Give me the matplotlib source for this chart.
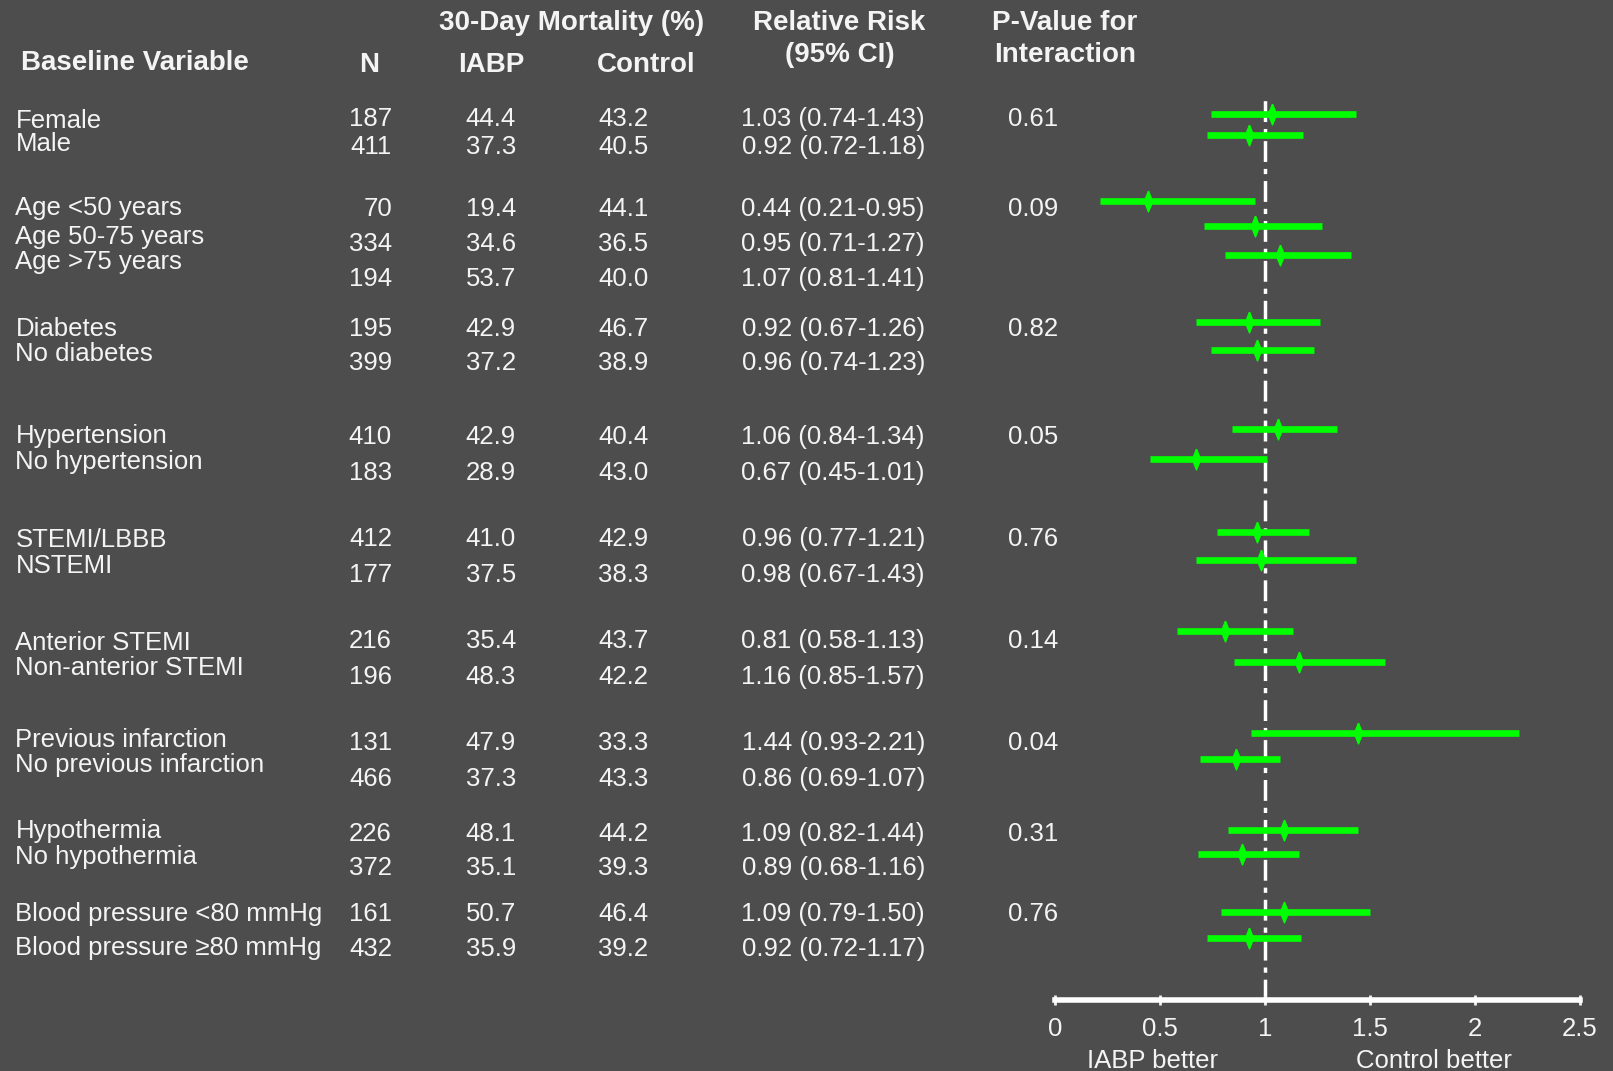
import matplotlib
matplotlib.use("Agg")
import matplotlib.pyplot as plt
import numpy as np

# subgroup table (IABP-SHOCK II style forest plot)
labels = ["Female", "Male",
          "Age <50 years", "Age 50-75 years", "Age >75 years",
          "Diabetes", "No diabetes",
          "Hypertension", "No hypertension",
          "STEMI/LBBB", "NSTEMI",
          "Anterior STEMI", "Non-anterior STEMI",
          "Previous infarction", "No previous infarction",
          "Hypothermia", "No hypothermia",
          "Blood pressure <80 mmHg", "Blood pressure \u226580 mmHg"]
n_pat = [187, 411, 70, 334, 194, 195, 399, 410, 183, 412, 177,
         216, 196, 131, 466, 226, 372, 161, 432]
mort_iabp = [44.4, 37.3, 19.4, 34.6, 53.7, 42.9, 37.2, 42.9, 28.9, 41.0, 37.5,
             35.4, 48.3, 47.9, 37.3, 48.1, 35.1, 50.7, 35.9]
mort_ctrl = [43.2, 40.5, 44.1, 36.5, 40.0, 46.7, 38.9, 40.4, 43.0, 42.9, 38.3,
             43.7, 42.2, 33.3, 43.3, 44.2, 39.3, 46.4, 39.2]
rr = [1.03, 0.92, 0.44, 0.95, 1.07, 0.92, 0.96, 1.06, 0.67, 0.96, 0.98,
      0.81, 1.16, 1.44, 0.86, 1.09, 0.89, 1.09, 0.92]
ci_lo = [0.74, 0.72, 0.21, 0.71, 0.81, 0.67, 0.74, 0.84, 0.45, 0.77, 0.67,
         0.58, 0.85, 0.93, 0.69, 0.82, 0.68, 0.79, 0.72]
ci_hi = [1.43, 1.18, 0.95, 1.27, 1.41, 1.26, 1.23, 1.34, 1.01, 1.21, 1.43,
         1.13, 1.57, 2.21, 1.07, 1.44, 1.16, 1.50, 1.17]
p_inter = [0.61, 0.09, 0.82, 0.05, 0.76, 0.14, 0.04, 0.31, 0.76]
p_row = [0, 2, 5, 7, 9, 11, 13, 15, 17]   # first row of each group

# layout (pixel rows in a 1568x1041 frame)
label_y = [118, 140, 202, 230, 255, 320, 344, 424, 449, 525, 550,
           625, 649, 719, 744, 808, 833, 888, 921]
num_y = [116, 143, 203, 237, 271, 320, 353, 425, 460, 524, 559,
         623, 658, 722, 757, 811, 844, 888, 922]
bar_y = [111, 131, 195, 220, 248, 313, 340, 417, 446, 517, 544,
         613, 643, 712, 738, 807, 830, 886, 912]

BG = "#4d4d4d"
FG = "#f4f4f4"
GREEN = "#00ff00"
W, H = 1568, 1041

plt.rcParams["font.family"] = ["Liberation Sans", "DejaVu Sans"]

fig = plt.figure(figsize=(16.13, 10.71), dpi=100, facecolor=BG)

# text layer
tx = fig.add_axes([0, 0, 1, 1])
tx.set_xlim(0, W)
tx.set_ylim(H, 0)
tx.axis("off")

fs = 18.5
def put(x, y, s, ha="left", bold=False):
    tx.text(x, y, s, ha=ha, va="center", color=FG,
            fontsize=20 if bold else fs,
            fontweight="bold" if bold else "normal")

put(556, 22, "30-Day Mortality (%)", "center", True)
put(20, 61, "Baseline Variable", "left", True)
put(359, 63, "N", "center", True)
put(478, 63, "IABP", "center", True)
put(628, 63, "Control", "center", True)
put(816, 22, "Relative Risk", "center", True)
put(816, 53, "(95% CI)", "center", True)
put(1035, 22, "P-Value for", "center", True)
put(1035, 53, "Interaction", "center", True)

for i, lab in enumerate(labels):
    put(15, label_y[i], lab)
    put(381, num_y[i], str(n_pat[i]), "right")
    put(477, num_y[i], f"{mort_iabp[i]:.1f}", "center")
    put(606, num_y[i], f"{mort_ctrl[i]:.1f}", "center")
    put(810, num_y[i], f"{rr[i]:.2f} ({ci_lo[i]:.2f}-{ci_hi[i]:.2f})", "center")

for p, r in zip(p_inter, p_row):
    put(980, num_y[r], f"{p:.2f}")

put(1120, 1031, "IABP better", "center")
put(1394, 1031, "Control better", "center")

# forest panel
x0, x1, ytop, ybot = 1026, 1536, 95, 972
ax = fig.add_axes([x0 / W, 1 - ybot / H, (x1 - x0) / W, (ybot - ytop) / H])
ax.set_facecolor("none")
ax.set_xlim(0, 2.5)
ax.set_ylim(ybot, ytop)
for s in ["top", "left", "right"]:
    ax.spines[s].set_visible(False)
ax.spines["bottom"].set_color("white")
ax.spines["bottom"].set_linewidth(4)
ax.set_yticks([])
ax.set_xticks(np.arange(0, 2.51, 0.5))
ax.set_xticklabels(["0", "0.5", "1", "1.5", "2", "2.5"])
ax.tick_params(axis="x", colors=FG, labelsize=fs, direction="inout",
               length=7, width=2, pad=9)

ax.axvline(1, color="white", lw=2.5, dashes=(6, 2, 1.5, 2), zorder=1)

diamond = [(0, 1), (0.4, 0), (0, -1), (-0.4, 0), (0, 1)]
for i in range(len(labels)):
    ax.plot([ci_lo[i], ci_hi[i]], [bar_y[i], bar_y[i]], color=GREEN,
            lw=4.8, solid_capstyle="butt", zorder=2)
    ax.plot(rr[i], bar_y[i], marker=diamond, ms=15, color=GREEN,
            mec=GREEN, zorder=3)

fig.savefig("out.png", dpi=100, facecolor=BG)
